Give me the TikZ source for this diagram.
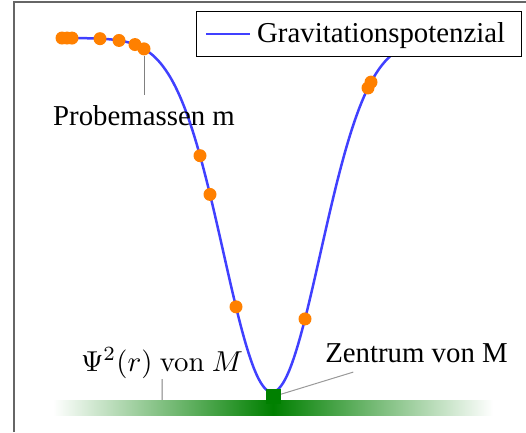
\documentclass[tikz,border=0pt]{standalone}
\usepackage{fontspec}
\setmainfont{Liberation Serif}
\begin{document}
\begin{tikzpicture}[
  x=1pt, y=-1pt,
  font=\fontsize{28.8}{34}\selectfont,
  declare function={pot(\x)=38+354*exp(-((\x-272)/68.6)^2);},
  curve/.style={blue!75, line width=2.5},
  mass/.style={circle, fill=orange, inner sep=0, minimum size=13},
  lbl/.style={inner sep=9.6},
  pinline/.style={gray, line width=1},
  bar/.style={rectangle, inner sep=0, minimum width=440, minimum height=15, left color=white, right color=white, middle color=green!50!black},
  core/.style={rectangle, fill=green!50!black, inner sep=0, minimum size=15},
  legendbox/.style={draw, fill=white, line width=1, inner sep=0, minimum width=325, minimum height=45}
]
\useasboundingbox (0,0) rectangle (526,432);
\draw[black!60, line width=2] (14,432) -- (14,2) -- (526,2);

% potential
\draw[curve] plot[domain=60:460, samples=160, smooth] (\x, {pot(\x)});

\node[bar] (bar) at (273,407.5) {};
\node[core] (center) at (273.5,396.5) {};

% probe masses
\foreach \px [count=\i] in {62,67,72,100,119,135,144,200,210,236,305,368,371}
  \node[mass] (m\i) at (\px,{pot(\px)}) {};

\node[lbl, anchor=base] (probe) at (144,125) {Probemassen m};
\draw[pinline] (m7) -- (probe);

\node[lbl, anchor=base] (zentrum) at (416.5,362) {Zentrum von M};
\draw[pinline, gray!80] (center) -- (zentrum);

\node[inner sep=0, anchor=south, scale=2.88, transform shape, font=\fontsize{10}{12}\selectfont] (psi) at (162,379) {$\Psi^2(r)$ {\fontfamily{lmr}\selectfont von} $M$};
\draw[pinline] (psi) -- (psi |- bar.north);

% legend
\node[legendbox, anchor=north east] (legend) at (522,11) {};
\node[inner sep=0, anchor=base west] (legtext) at (257,42) {Gravitationspotenzial};
\draw[curve] ([xshift=10]legend.west) -- ++(44,0);
\end{tikzpicture}
\end{document}
